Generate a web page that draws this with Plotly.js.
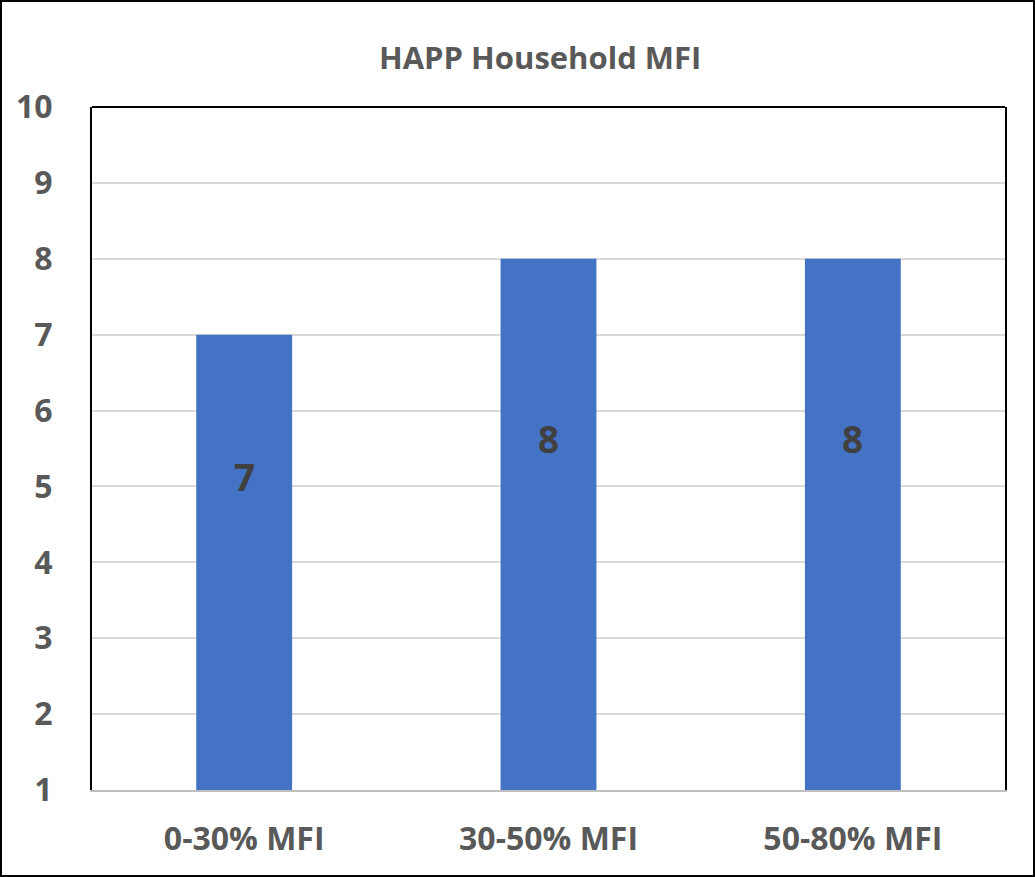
<!DOCTYPE html>
<html>
<head>
<meta charset="utf-8">
<script src="https://cdn.plot.ly/plotly-3.0.1.min.js"></script>
<style>
  html, body { margin: 0; padding: 0; background: #fff; }
  #chart { width: 1035px; height: 877px; box-sizing: border-box; border: 2px solid #000; }
</style>
</head>
<body>
<div id="chart"></div>
<script>
const categories = ["0-30% MFI", "30-50% MFI", "50-80% MFI"];
const values = [7, 8, 8];
const yTicks = [1, 2, 3, 4, 5, 6, 7, 8, 9, 10];
const yMin = 1, yMax = 10;

const fontFam = "Open Sans, Liberation Sans, sans-serif";
const trace = {
  type: "bar",
  x: categories,
  y: values,
  marker: { color: "#4472C4" },
  hoverinfo: "x+y"
};

// data labels, placed relative to each bar's visible middle
const labels = categories.map((c, i) => ({
  x: c,
  y: (yMin + values[i]) / 2,
  xref: "x", yref: "y",
  text: "<b>" + values[i] + "</b>",
  showarrow: false,
  yshift: 86,
  font: { family: fontFam, size: 37, color: "#404040" }
}));

const layout = {
  width: 1031,
  height: 873,
  margin: { l: 90, r: 28, t: 105, b: 85 },
  paper_bgcolor: "#fff",
  plot_bgcolor: "#fff",
  showlegend: false,
  bargap: 0.685,
  title: {
    text: "<b>HAPP Household MFI</b>",
    xref: "container",
    x: 0.522, xanchor: "center",
    y: 0.936, yanchor: "middle",
    font: { family: fontFam, size: 31, color: "#595959" }
  },
  xaxis: {
    type: "category",
    showline: true, linecolor: "#bfbfbf", linewidth: 2,
    showgrid: false,
    ticks: "",
    ticklabelstandoff: 20,
    tickfont: { family: fontFam, size: 32, color: "#595959", weight: "bold" },
    fixedrange: true
  },
  yaxis: {
    range: [yMin, yMax],
    tickvals: yTicks,
    ticktext: yTicks.map(String),
    showline: true, linecolor: "#000", linewidth: 2, mirror: true,
    showgrid: true, gridcolor: "#d9d9d9", gridwidth: 2,
    zeroline: false,
    ticks: "",
    ticklabelstandoff: 31,
    tickfont: { family: fontFam, size: 32, color: "#595959", weight: "bold" },
    fixedrange: true
  },
  annotations: labels,
  shapes: [{
    type: "line", xref: "paper", yref: "paper",
    x0: 0, x1: 1, y0: 1, y1: 1,
    line: { color: "#000", width: 2 }
  }]
};

Plotly.newPlot("chart", [trace], layout, { displayModeBar: false, staticPlot: true });
</script>
</body>
</html>
